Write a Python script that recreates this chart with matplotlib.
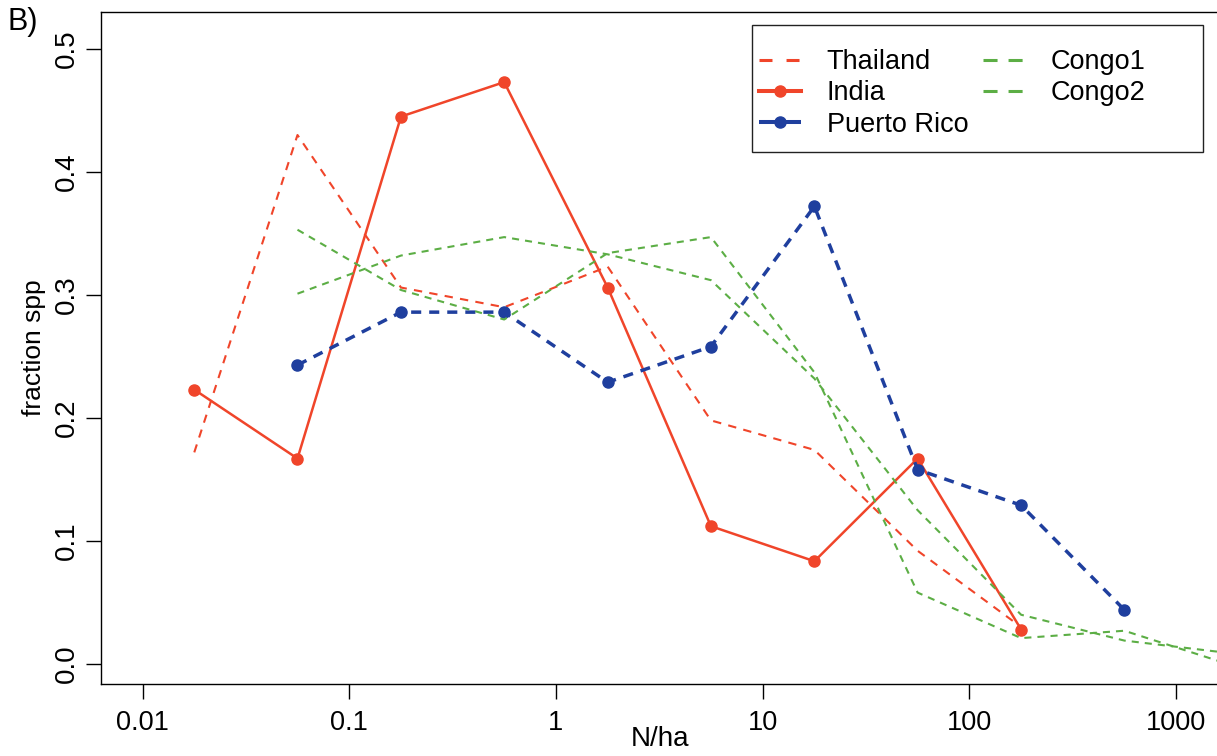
import matplotlib
matplotlib.use("Agg")
import matplotlib.pyplot as plt
from matplotlib.patches import Rectangle

plt.rcParams['font.family'] = ['Liberation Sans', 'DejaVu Sans']

# bin centres (N/ha) and fraction of species per bin
nha = [0.0178, 0.0562, 0.178, 0.562, 1.78, 5.62, 17.8, 56.2, 178, 562, 1778]
thailand = [0.172, 0.430, 0.306, 0.290, 0.323, 0.198, 0.174, 0.092, 0.030]
india = [0.223, 0.167, 0.445, 0.473, 0.306, 0.112, 0.0835, 0.167, 0.028]
puerto_rico = [0.243, 0.286, 0.286, 0.229, 0.258, 0.372, 0.158, 0.129, 0.044]
congo1 = [0.353, 0.304, 0.280, 0.334, 0.347, 0.237, 0.058, 0.021, 0.027, 0.000]
congo2 = [0.301, 0.332, 0.347, 0.333, 0.312, 0.232, 0.125, 0.040, 0.019, 0.009]

xticks = [0.01, 0.1, 1, 10, 100, 1000]
xticklabels = ['0.01', '0.1', '1', '10', '100', '1000']
yticks = [0.0, 0.1, 0.2, 0.3, 0.4, 0.5]

red = '#f0452a'
blue = '#1f3f9e'
green = '#5cae45'

W, H = 1217, 756
fig = plt.figure(figsize=(W / 100, H / 100), dpi=100)
ax = fig.add_axes([101 / W, 72 / H, 1 - 101 / W, (684 - 12) / H])

ax.plot(nha[:9], thailand, color=red, lw=1.5, dashes=(4, 3.5), label='Thailand')
ax.plot(nha[:9], india, color=red, lw=1.8, marker='o', ms=8, label='India')
ax.plot(nha[1:10], puerto_rico, color=blue, lw=2.5, dashes=(2.9, 2.3),
        marker='o', ms=8, label='Puerto Rico')
ax.plot(nha[1:], congo1, color=green, lw=1.5, dashes=(3.4, 2.9), label='Congo1')
ax.plot(nha[1:], congo2, color=green, lw=1.5, dashes=(3.4, 2.9), label='Congo2')

ax.set_xscale('log')
ax.set_xlim(10 ** -2.2008, 10 ** 3.198)
ax.set_ylim(-0.0163, 0.530)
ax.set_xticks(xticks)
ax.set_xticklabels(xticklabels, fontsize=19.5)
ax.minorticks_off()
ax.set_yticks(yticks)
ax.set_yticklabels([f'{v:.1f}' for v in yticks], rotation=90, va='center', fontsize=20)
ax.tick_params(direction='out', length=11, width=1)
ax.tick_params(axis='x', pad=8)
ax.tick_params(axis='y', pad=4)
ax.spines['right'].set_visible(False)
for s in ['left', 'top', 'bottom']:
    ax.spines[s].set_linewidth(1.0)

ax.set_ylabel('fraction spp', fontsize=19, labelpad=6)
fig.text(660 / W, 1 - 739 / H, 'N/ha', fontsize=20, ha='center', va='center')
fig.text(8 / W, 1 - 22 / H, 'B)', fontsize=22, ha='left', va='center')

leg = ax.legend(ncol=2, loc='upper left', frameon=False, fontsize=19.5,
                bbox_to_anchor=(759 / W, 1 - 49 / H), bbox_transform=fig.transFigure,
                borderaxespad=0, borderpad=0, handlelength=1.55, handletextpad=0.95,
                labelspacing=0.2, columnspacing=0.55)
# legend keys are drawn heavier than the plotted lines, as in the original
handle_dashes = {'Thailand': (4.25, 4.6), 'Congo1': (4.6, 3.6), 'Congo2': (4.6, 3.6),
                 'Puerto Rico': (4.25, 2.0)}
for line, text in zip(leg.get_lines(), leg.get_texts()):
    name = text.get_text()
    if name in ('India', 'Puerto Rico'):
        line.set_linewidth(2.9)
    else:
        line.set_linewidth(2.2)
    if name in handle_dashes:
        line.set_dashes(handle_dashes[name])

fig.patches.append(Rectangle((752 / W, 1 - 152 / H), (1203 - 752) / W, (152 - 25) / H,
                             transform=fig.transFigure, fill=False, lw=1.0,
                             edgecolor='#222222'))

fig.savefig('out.png', dpi=100)
